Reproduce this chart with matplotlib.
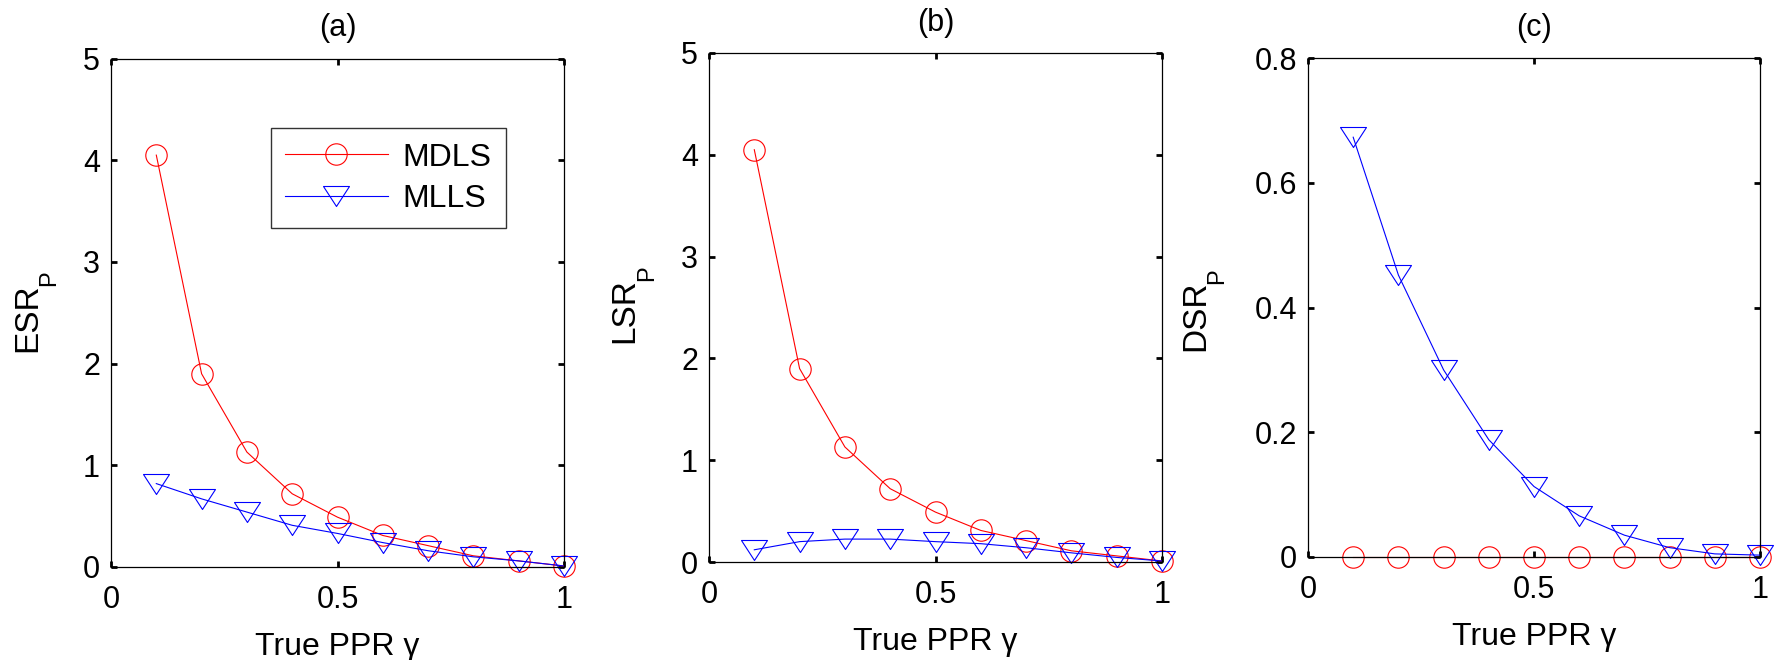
import numpy as np
import matplotlib
matplotlib.use('Agg')
import matplotlib.pyplot as plt
from matplotlib.path import Path

plt.rcParams['font.family'] = ['Liberation Sans', 'DejaVu Sans']

## data
ppr = [0.1, 0.2, 0.3, 0.4, 0.5, 0.6, 0.7, 0.8, 0.9, 1.0]

esr_mdls = [4.05, 1.90, 1.13, 0.72, 0.49, 0.31, 0.21, 0.11, 0.06, 0.01]
esr_mlls = [0.82, 0.67, 0.54, 0.41, 0.33, 0.24, 0.16, 0.10, 0.06, 0.01]

lsr_mdls = [4.05, 1.90, 1.13, 0.72, 0.49, 0.31, 0.21, 0.11, 0.06, 0.01]
lsr_mlls = [0.12, 0.20, 0.225, 0.225, 0.20, 0.18, 0.14, 0.09, 0.045, 0.01]

dsr_mdls = [0, 0, 0, 0, 0, 0, 0, 0, 0, 0]
dsr_mlls = [0.673, 0.452, 0.300, 0.188, 0.113, 0.066, 0.035, 0.015, 0.005, 0.003]

titles = ['(a)', '(b)', '(c)']
ylab_main = ['ESR', 'LSR', 'DSR']
ylab_sub = ['P', 'P', 'P']
ylims = [(0, 5), (0, 5), (0, 0.8)]
yticks = [[0, 1, 2, 3, 4, 5], [0, 1, 2, 3, 4, 5], [0, 0.2, 0.4, 0.6, 0.8]]
yticklabels = [['0', '1', '2', '3', '4', '5'], ['0', '1', '2', '3', '4', '5'],
               ['0', '0.2', '0.4', '0.6', '0.8']]
mdls = [esr_mdls, lsr_mdls, dsr_mdls]
mlls = [esr_mlls, lsr_mlls, dsr_mlls]

# wide down-triangle like matlab 'v'
tri = Path([(-1, 0.77), (1, 0.77), (0, -0.77), (-1, 0.77)],
           [Path.MOVETO, Path.LINETO, Path.LINETO, Path.CLOSEPOLY])

W, H = 1776, 660
fig = plt.figure(figsize=(W / 100, H / 100), dpi=100)

# axes boxes in pixels: left, top, right, bottom
boxes = [(111, 58.5, 564, 567),
         (709, 53, 1162, 562),
         (1308, 58, 1760, 557)]
# ylabel placement in pixels (x centre of main text, bottom y from top of image)
ylab_x = [27.5, 625, 1195.5]
ylab_bottom = [352, 343, 351]

renderer = fig.canvas.get_renderer()
for i in range(3):
    l, t, r, b = boxes[i]
    ax = fig.add_axes([l / W, 1 - b / H, (r - l) / W, (b - t) / H])
    ax.plot(ppr, mdls[i], color='red', lw=0.8, marker='o', ms=15.4,
            mfc='none', mec='red', mew=0.8, label='MDLS', clip_on=False)
    ax.plot(ppr, mlls[i], color='blue', lw=0.8, marker=tri, ms=18.7,
            mfc='none', mec='blue', mew=0.8, label='MLLS', clip_on=False)
    ax.set_xlim(0, 1)
    ax.set_ylim(*ylims[i])
    ax.set_xticks([0, 0.5, 1])
    ax.set_xticklabels(['0', '0.5', '1'])
    ax.set_yticks(yticks[i])
    ax.set_yticklabels(yticklabels[i])
    ax.tick_params(direction='in', length=4, width=2, top=True, right=True,
                   labelsize=22)
    ax.tick_params(axis='x', pad=13)
    ax.tick_params(axis='y', pad=8)
    for sp in ax.spines.values():
        sp.set_linewidth(0.9)
    ax.set_title(titles[i], fontsize=22, pad=16)
    ax.set_xlabel('True PPR γ', fontsize=23, labelpad=12)

    # y label with subscript, matlab style
    tx = fig.text(ylab_x[i] / W, 1 - ylab_bottom[i] / H, ylab_main[i],
                  rotation=90, ha='center', va='bottom', fontsize=24)
    bb = tx.get_window_extent(renderer)
    fig.text((ylab_x[i] + 22) / W, (bb.y1 - 3) / H, ylab_sub[i],
             rotation=90, ha='center', va='bottom', fontsize=17)

    if i == 0:
        leg = ax.legend(loc='upper left', bbox_to_anchor=(0.353, 0.863),
                        fontsize=23, frameon=True, fancybox=False,
                        edgecolor='black', handlelength=3.2,
                        handletextpad=0.47, labelspacing=0.35,
                        borderpad=0.45, borderaxespad=0)
        leg.get_frame().set_linewidth(1.0)

plt.savefig('out.png', dpi=100)
